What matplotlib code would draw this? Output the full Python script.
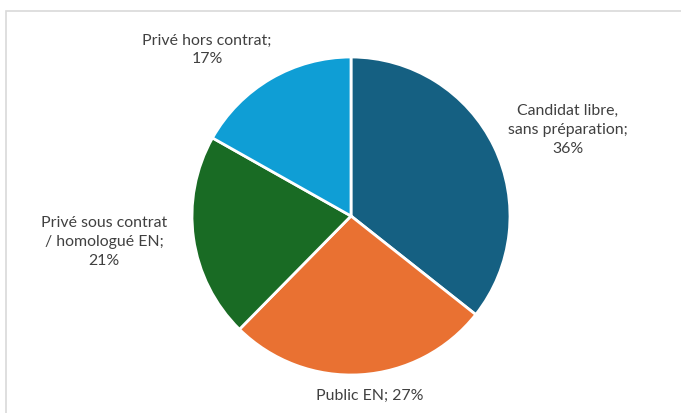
import matplotlib
matplotlib.use("Agg")
import matplotlib.pyplot as plt
from matplotlib.patches import Rectangle

categories = ["Candidat libre,\nsans préparation", "Public EN", "Privé sous contrat\n/ homologué EN", "Privé hors contrat"]
values = [36, 27, 21, 17]
colors = ["#156082", "#E97132", "#196B24", "#0F9ED5"]
label_texts = ["Candidat libre,\nsans préparation;\n36%", "Public EN; 27%", "Privé sous contrat\n/ homologué EN;\n21%", "Privé hors contrat;\n17%"]

W, H = 681, 414
fig = plt.figure(figsize=(W/100, H/100), dpi=100)
fig.patch.set_facecolor("white")

# chart frame (partially visible)
fig.add_artist(Rectangle((6/W, -0.1), 1.2, (H-12)/H + 0.1, transform=fig.transFigure,
                         fill=False, edgecolor="#d9d9d9", linewidth=1.2))

cx, cy, r = 351, 197, 159
ax = fig.add_axes([(cx-r)/W, (cy-r)/H, 2*r/W, 2*r/H])
ax.pie(values, colors=colors, startangle=90, counterclock=False,
       wedgeprops=dict(edgecolor="white", linewidth=2))
ax.set_xlim(-1, 1)
ax.set_ylim(-1, 1)
ax.axis("off")

label_pos = [(568, 130), (370, 396), (104, 242), (207, 50)]
for txt, (x, y) in zip(label_texts, label_pos):
    fig.text(x/W, 1 - y/H, txt, ha="center", va="center", fontsize=11.4,
             color="#404040", family="Lato", linespacing=1.45)

fig.savefig("out.png", dpi=100, facecolor="white")
